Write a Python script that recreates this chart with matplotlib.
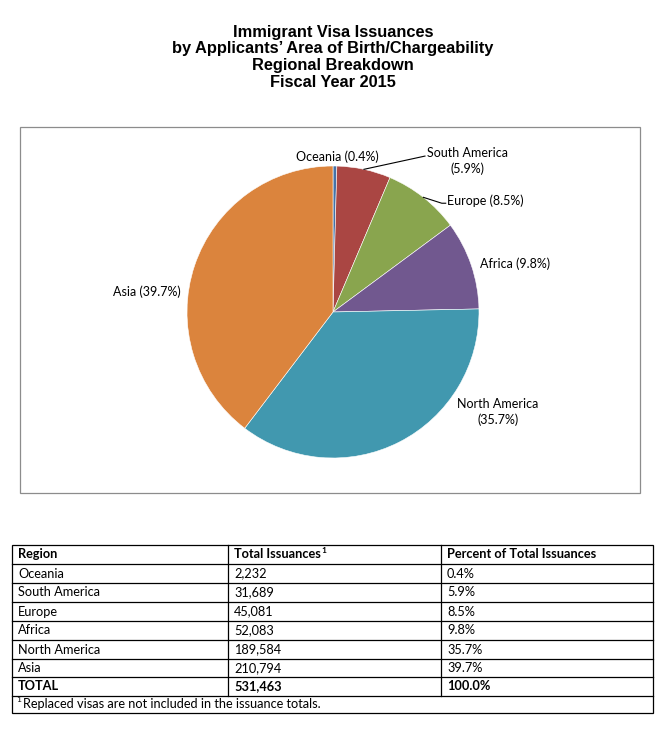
import numpy as np
import matplotlib
matplotlib.use("Agg")
import matplotlib.pyplot as plt
from matplotlib.patches import Rectangle

# data
regions = ["Oceania", "South America", "Europe", "Africa", "North America", "Asia"]
issuances = [2232, 31689, 45081, 52083, 189584, 210794]
percents = ["0.4%", "5.9%", "8.5%", "9.8%", "35.7%", "39.7%"]
total_issuances = "531,463"
total_percent = "100.0%"
title_lines = ["Immigrant Visa Issuances",
               "by Applicants\u2019 Area of Birth/Chargeability",
               "Regional Breakdown",
               "Fiscal Year 2015"]
col_headers = ["Region", "Total Issuances", "Percent of Total Issuances"]
footnote = "Replaced visas are not included in the issuance totals."

colors = ["#4572A7", "#AA4643", "#89A54E", "#71588F", "#4198AF", "#DB843D"]

W, H = 667, 729
fig = plt.figure(figsize=(W / 100, H / 100), dpi=100)

# background axes in pixel units for frame, title and table
bg = fig.add_axes([0, 0, 1, 1])
bg.set_xlim(0, W)
bg.set_ylim(H, 0)
bg.axis("off")

for i, line in enumerate(title_lines):
    bg.text(333, 32 + i * 16.7, line, ha="center", va="center",
            fontsize=11.8, fontweight="bold", family="Liberation Sans")

# chart frame
bg.add_patch(Rectangle((20, 127), 620, 366, fill=False, edgecolor="#8c8c8c", lw=0.9))

# pie
R = 146.0
cx, cy = 333, 312
box = (20, 127, 620, 366)
ax = fig.add_axes([box[0] / W, (H - box[1] - box[3]) / H, box[2] / W, box[3] / H])
wedges, _ = ax.pie(issuances, colors=colors, startangle=90, counterclock=False,
                   wedgeprops=dict(edgecolor="white", linewidth=0.4))
ax.set_xlim(-(cx - box[0]) / R, (box[0] + box[2] - cx) / R)
ax.set_ylim(-(box[1] + box[3] - cy) / R, (cy - box[1]) / R)
ax.set_aspect("auto")
ax.patch.set_alpha(0)

# data labels
lab_font = dict(fontsize=9, family="Lato")
label_pos = [(0.027, 1.062, "center"), (0.918, 1.034, "center"), (0.781, 0.760, "left"),
             (1.007, 0.329, "left"), (1.130, -0.685, "center"), (-1.041, 0.137, "right")]
label_text = [f"{regions[0]} ({percents[0]})",
              f"{regions[1]}\n({percents[1]})",
              f"{regions[2]} ({percents[2]})",
              f"{regions[3]} ({percents[3]})",
              f"{regions[4]}\n({percents[4]})",
              f"{regions[5]} ({percents[5]})"]
for (x, y, ha), t in zip(label_pos, label_text):
    ax.text(x, y, t, ha=ha, va="center", linespacing=1.35, **lab_font)

# leader lines for South America and Europe
leader_end = {1: [(0.630, 1.068)], 2: [(0.745, 0.745), (0.772, 0.745)]}
for idx, pts in leader_end.items():
    w = wedges[idx]
    mid = np.deg2rad((w.theta1 + w.theta2) / 2)
    xs = [np.cos(mid)] + [p[0] for p in pts]
    ys = [np.sin(mid)] + [p[1] for p in pts]
    ax.plot(xs, ys, color="black", lw=0.8)

# table
tl, tr = 12, 653
col_x = [12, 228, 441]
row_y = [545, 564, 583, 602, 621, 640, 659, 677, 696, 713]
lw = 0.9
bg.add_patch(Rectangle((tl, row_y[0]), tr - tl, row_y[-1] - row_y[0], fill=False,
                       edgecolor="black", lw=lw))
for y in row_y[1:-1]:
    bg.plot([tl, tr], [y, y], color="black", lw=lw)
for x in col_x[1:]:
    bg.plot([x, x], [row_y[0], row_y[-2]], color="black", lw=lw)

tfont = dict(fontsize=9.2, family="Lato", va="center")
rows = [[r, f"{v:,}", p] for r, v, p in zip(regions, issuances, percents)]
for j, h in enumerate(col_headers):
    t = bg.text(col_x[j] + 6, (row_y[0] + row_y[1]) / 2, h, fontweight="bold", **tfont)
    if j == 1:
        head_t = t
for i, row in enumerate(rows):
    yc = (row_y[i + 1] + row_y[i + 2]) / 2
    for j, val in enumerate(row):
        bg.text(col_x[j] + 6, yc, val, **tfont)
yc = (row_y[7] + row_y[8]) / 2
for j, val in enumerate(["TOTAL", total_issuances, total_percent]):
    bg.text(col_x[j] + 6, yc, val, fontweight="bold", **tfont)
yc = (row_y[8] + row_y[9]) / 2
bg.text(col_x[0] + 11, yc, footnote, **tfont)
bg.text(col_x[0] + 4, yc - 5, "1", fontsize=6, family="Lato", va="center")

# superscript after header
fig.canvas.draw()
bb = head_t.get_window_extent()
x_end = bg.transData.inverted().transform((bb.x1, bb.y1))[0]
bg.text(x_end + 0.5, (row_y[0] + row_y[1]) / 2 - 4, "1", fontsize=6,
        fontweight="bold", family="Lato", va="center")

fig.savefig("out.png", dpi=100)
